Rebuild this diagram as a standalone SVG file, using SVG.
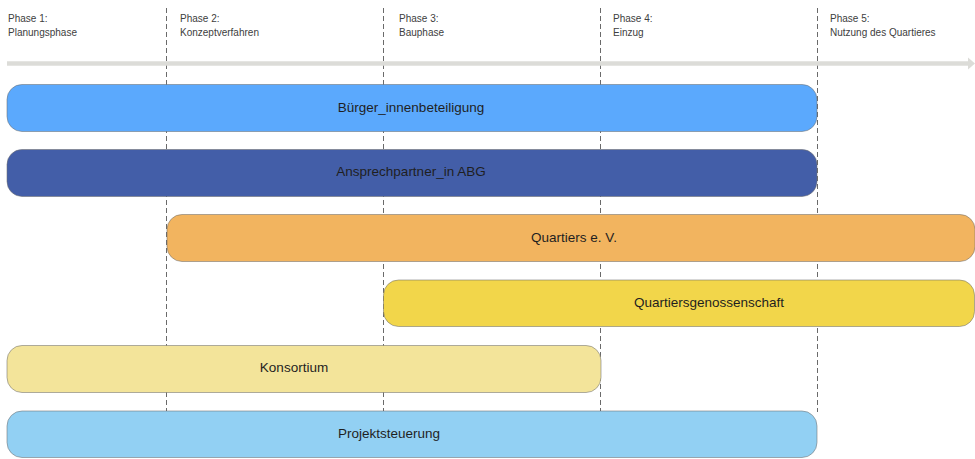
<svg xmlns="http://www.w3.org/2000/svg" width="975" height="459" viewBox="0 0 975 459">
<style>
.ph{font-family:"Liberation Sans",Arial,sans-serif;font-size:10px;fill:#404040}
.lb{font-family:"Liberation Sans",Arial,sans-serif;font-size:13.5px;fill:#1f1f1f;text-anchor:middle}
.bar{stroke:#6f6f6f;stroke-opacity:0.55;stroke-width:1}
.dash{stroke:#6a6a6a;stroke-width:1;stroke-dasharray:5 3;fill:none}
</style>
<rect width="975" height="459" fill="#ffffff"/>
<g id="phases">
<text class="ph" x="8" y="22">Phase 1:</text>
<text class="ph" x="8" y="36">Planungsphase</text>
<text class="ph" x="180" y="22">Phase 2:</text>
<text class="ph" x="180" y="36">Konzeptverfahren</text>
<text class="ph" x="399" y="22">Phase 3:</text>
<text class="ph" x="399" y="36">Bauphase</text>
<text class="ph" x="613" y="22">Phase 4:</text>
<text class="ph" x="613" y="36">Einzug</text>
<text class="ph" x="830" y="22">Phase 5:</text>
<text class="ph" x="830" y="36">Nutzung des Quartieres</text>
</g>
<g id="connectors">
<line class="dash" x1="166.5" y1="8" x2="166.5" y2="412"/>
<line class="dash" x1="383.5" y1="8" x2="383.5" y2="412"/>
<line class="dash" x1="600.5" y1="8" x2="600.5" y2="412"/>
<line class="dash" x1="817.5" y1="8" x2="817.5" y2="412"/>
<line x1="7" y1="63.5" x2="969" y2="63.5" stroke="#dcdcd8" stroke-width="4.5"/>
<polygon points="968,57.5 975,63.5 968,69.5" fill="#dcdcd8"/>
</g>
<g id="n1">
<rect class="bar" x="7" y="84.5" width="810" height="47" rx="15" fill="#5ba9fd"/>
<text class="lb" x="411" y="112">Bürger_innenbeteiligung</text>
</g>
<g id="n2">
<rect class="bar" x="7" y="149.5" width="810" height="47" rx="15" fill="#435ea8"/>
<text class="lb" x="411" y="176">Ansprechpartner_in ABG</text>
</g>
<g id="n3">
<rect class="bar" x="167" y="214.5" width="808" height="47" rx="15" fill="#f2b45f"/>
<text class="lb" x="574" y="242">Quartiers e. V.</text>
</g>
<g id="n4">
<rect class="bar" x="383.5" y="280" width="591" height="46.5" rx="15" fill="#f2d64a"/>
<text class="lb" x="709" y="307">Quartiersgenossenschaft</text>
</g>
<g id="n5">
<rect class="bar" x="7" y="345.5" width="594" height="47" rx="15" fill="#f3e49a"/>
<text class="lb" x="294" y="372">Konsortium</text>
</g>
<g id="n6">
<rect class="bar" x="7" y="411" width="810" height="46.5" rx="15" fill="#92d0f3"/>
<text class="lb" x="389" y="438">Projektsteuerung</text>
</g>
</svg>
